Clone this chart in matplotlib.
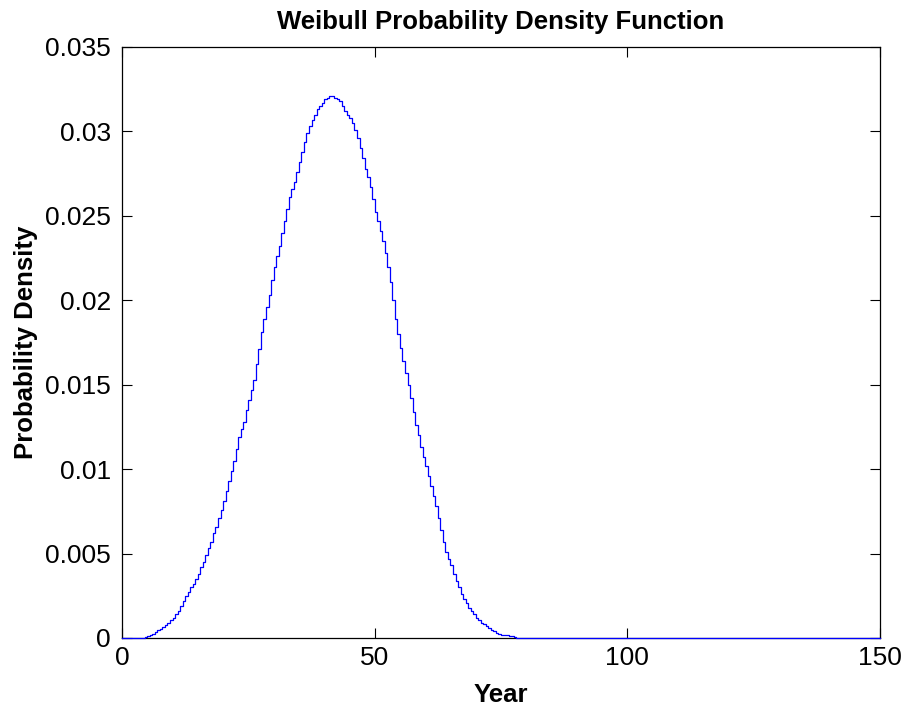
import numpy as np
import matplotlib
matplotlib.use("Agg")
import matplotlib.pyplot as plt

plt.rcParams["font.family"] = ["Liberation Sans", "DejaVu Sans"]

# half-year density values (stairs, held for half a year)
step = 0.5
years = np.arange(0, 150 + step / 2, step)
start_year = 4.5
density_head = [
    0.00005, 0.0001, 0.00018, 0.00025, 0.00035, 0.00045, 0.00055, 0.00065,
    0.00077, 0.0009, 0.00105, 0.0012, 0.0014, 0.0016, 0.0019, 0.0022,
    0.0025, 0.0027, 0.0030, 0.0032, 0.0035, 0.0038, 0.0042, 0.0045,
    0.0049, 0.0053, 0.0057, 0.0062, 0.0066, 0.0071, 0.0076, 0.0081,
    0.0087, 0.0093, 0.0099, 0.0105, 0.0112, 0.0119, 0.0124, 0.0128,
    0.0135, 0.0141, 0.0147, 0.0153, 0.0162, 0.0171, 0.0181, 0.0189,
    0.0196, 0.0203, 0.0212, 0.0220, 0.0226, 0.0232, 0.0240, 0.0247,
    0.0254, 0.0261, 0.0266, 0.0270, 0.0276, 0.0282, 0.0288, 0.0294,
    0.0299, 0.0303, 0.0307, 0.0310, 0.0313, 0.0315, 0.0317, 0.0319,
    0.0320, 0.0321, 0.0321, 0.0320, 0.0319, 0.0318, 0.0315, 0.0312,
    0.0310, 0.0308, 0.0305, 0.0301, 0.0296, 0.0290, 0.0284, 0.0278,
    0.0273, 0.0267, 0.0260, 0.0252, 0.0247, 0.0241, 0.0235, 0.0228,
    0.0220, 0.0211, 0.0200, 0.0189, 0.0180, 0.0172, 0.0164, 0.0157,
    0.0150, 0.0142, 0.0134, 0.0126, 0.0120, 0.0113, 0.0107, 0.0102,
    0.0096, 0.0090, 0.0084, 0.0078, 0.0071, 0.0064, 0.0057, 0.0051,
    0.0047, 0.0043, 0.0038, 0.0034, 0.0030, 0.0026, 0.0023, 0.0021,
    0.0018, 0.0016, 0.0014, 0.0012, 0.00105, 0.0009, 0.0008, 0.0007,
    0.0006, 0.0005, 0.0004, 0.0003, 0.00025, 0.0002, 0.00018, 0.00015,
    0.00012, 0.0001, 0.00008,
]
n_lead = int(round(start_year / step))
density = [0.0] * n_lead + density_head
density = density + [0.0] * (len(years) - len(density))

xticks = [0, 50, 100, 150]
yticks = [0, 0.005, 0.01, 0.015, 0.02, 0.025, 0.03, 0.035]
ytick_labels = ["0", "0.005", "0.01", "0.015", "0.02", "0.025", "0.03", "0.035"]

fig = plt.figure(figsize=(9.05, 7.13), dpi=100)
ax = fig.add_axes([0.1348, 0.1052, 0.8376, 0.8289])

ax.step(years, density, where="post", color="#0000ff", linewidth=0.9,
        zorder=5, clip_on=False)

ax.set_xlim(0, 150)
ax.set_ylim(0, 0.035)
ax.set_xticks(xticks)
ax.set_xticklabels([str(t) for t in xticks])
ax.set_yticks(yticks)
ax.set_yticklabels(ytick_labels)
ax.tick_params(direction="in", length=7, width=0.8, labelsize=19,
               top=True, right=True)
ax.tick_params(axis="x", pad=6)
ax.tick_params(axis="y", pad=8)
for s in ax.spines.values():
    s.set_linewidth(0.9)

ax.set_title("Weibull Probability Density Function", fontsize=18.5,
             fontweight="bold", pad=13)
ax.set_xlabel("Year", fontsize=18.5, fontweight="bold", labelpad=9)
ax.set_ylabel("Probability Density", fontsize=18.5, fontweight="bold", labelpad=5)

fig.savefig("out.png", dpi=100)
